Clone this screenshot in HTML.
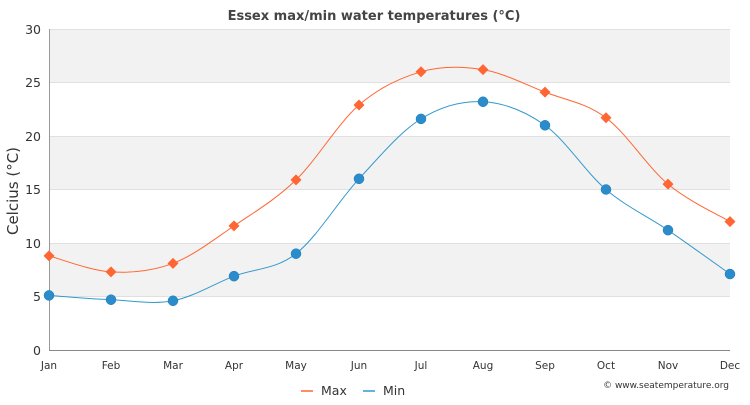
<!DOCTYPE html>
<html><head><meta charset="utf-8"><style>
body{margin:0;background:#fff;}
svg{font-family:"DejaVu Sans","Liberation Sans",sans-serif;}
</style></head><body>
<svg id="c" width="750" height="400" xmlns="http://www.w3.org/2000/svg">
<rect width="750" height="400" fill="#fff"/>
<rect x="49" y="29" width="681" height="53.5" fill="#f2f2f2"/>
<rect x="49" y="136" width="681" height="53.5" fill="#f2f2f2"/>
<rect x="49" y="243" width="681" height="53.5" fill="#f2f2f2"/>
<g stroke="#e0e0e0" stroke-width="1">
<line x1="49" x2="730" y1="29.5" y2="29.5"/><line x1="49" x2="730" y1="82.5" y2="82.5"/>
<line x1="49" x2="730" y1="136.5" y2="136.5"/><line x1="49" x2="730" y1="189.5" y2="189.5"/>
<line x1="49" x2="730" y1="243.5" y2="243.5"/><line x1="49" x2="730" y1="296.5" y2="296.5"/>
</g>
<line x1="49" x2="730" y1="350.5" y2="350.5" stroke="#888"/>
<line x1="49.5" x2="49.5" y1="29" y2="350" stroke="#999"/>
<g font-size="12.5" fill="#333" text-anchor="end">
<text x="41" y="34">30</text><text x="41" y="87">25</text><text x="41" y="141">20</text>
<text x="41" y="194">15</text><text x="41" y="248">10</text><text x="41" y="301">5</text><text x="41" y="355">0</text>
</g>
<g font-size="10.5" fill="#333" text-anchor="middle" id="xl"></g>
<text x="374" y="20" text-anchor="middle" font-size="13" font-weight="bold" fill="#444">Essex max/min water temperatures (°C)</text>
<text transform="translate(18,191) rotate(-90)" text-anchor="middle" font-size="15" fill="#333">Celcius (°C)</text>
<g id="s"></g>
<line x1="301" x2="313" y1="391" y2="391" stroke="#ff6633" stroke-width="1.5"/>
<text x="321" y="395" font-size="12.5" fill="#333">Max</text>
<line x1="363" x2="375" y1="391" y2="391" stroke="#3399cc" stroke-width="1.5"/>
<text x="383" y="395" font-size="12.5" fill="#333">Min</text>
<text x="729" y="388" text-anchor="end" font-size="9" fill="#333">© www.seatemperature.org</text>
</svg>
<script>
var xs=[49,111,173,234,296,359,421,483,545,606,668,730];
var m=["Jan","Feb","Mar","Apr","May","Jun","Jul","Aug","Sep","Oct","Nov","Dec"];
var NS="http://www.w3.org/2000/svg";
var xl=document.getElementById("xl");
m.forEach(function(t,i){var e=document.createElementNS(NS,"text");e.setAttribute("x",xs[i]);e.setAttribute("y",369);e.textContent=t;xl.appendChild(e);});
var mx=[8.8,7.3,8.1,11.6,15.9,22.9,26.0,26.2,24.1,21.7,15.5,12.0];
var mn=[5.1,4.7,4.6,6.9,9.0,16.0,21.6,23.2,21.0,15.0,11.2,7.1];
function Y(v){return 350-v*10.7;}
function path(vals){
 var p=vals.map(function(v,i){return [xs[i],Y(v)];});
 var d="M"+p[0][0]+","+p[0][1];
 for(var i=0;i<p.length-1;i++){
  var p0=p[i-1]||p[i],p1=p[i],p2=p[i+1],p3=p[i+2]||p[i+1];
  var c1=[p1[0]+(p2[0]-p0[0])/6,p1[1]+(p2[1]-p0[1])/6];
  var c2=[p2[0]-(p3[0]-p1[0])/6,p2[1]-(p3[1]-p1[1])/6];
  d+=" C"+c1+" "+c2+" "+p2;
 }
 return d;
}
var s=document.getElementById("s"),h="";
h+='<path d="'+path(mx)+'" fill="none" stroke="#ff6633" stroke-width="1"/>';
h+='<path d="'+path(mn)+'" fill="none" stroke="#3399cc" stroke-width="1"/>';
mx.forEach(function(v,i){var x=xs[i],y=Y(v);h+='<path d="M'+x+','+(y-5.5)+' L'+(x+5.5)+','+y+' L'+x+','+(y+5.5)+' L'+(x-5.5)+','+y+'Z" fill="#ff6633"/>';});
mn.forEach(function(v,i){h+='<circle cx="'+xs[i]+'" cy="'+Y(v)+'" r="5" fill="#2b8ccc" stroke="#1f7ab5" stroke-width="0.5"/>';});
s.innerHTML=h;
</script>
</body></html>
